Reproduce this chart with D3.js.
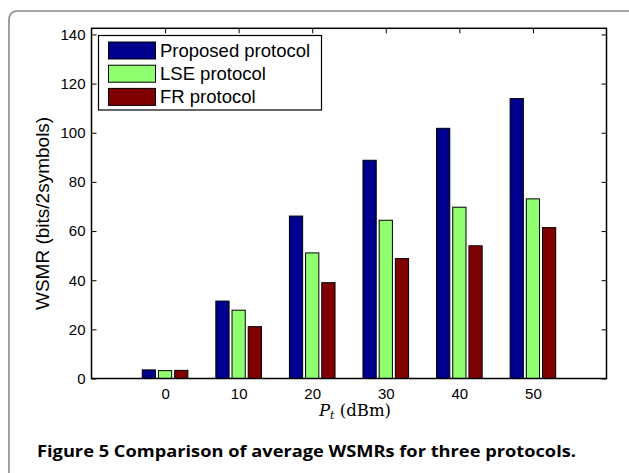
<!DOCTYPE html>
<html>
<head>
<meta charset="utf-8">
<script src="https://cdn.jsdelivr.net/npm/d3@7"></script>
<style>
  html, body { margin: 0; padding: 0; background: #fff; }
  svg { display: block; }
</style>
</head>
<body>
<svg id="chart" width="629" height="473"></svg>
<script>
// Transmit power levels (dBm) on the x axis
const powers = [0, 10, 20, 30, 40, 50];
// Series names as shown in the legend
const seriesNames = ["Proposed protocol", "LSE protocol", "FR protocol"];
// Average WSMR (bits/2symbols) per protocol
const proposed = [3.5, 31.5, 66.1, 88.8, 101.8, 113.9];
const lse      = [3.2, 27.8, 51.1, 64.4, 69.7, 73.1];
const fr       = [3.3, 21.1, 39.0, 48.8, 54.0, 61.4];
const yTicks = [0, 20, 40, 60, 80, 100, 120, 140];
const colors = ["#00008f", "#8fff70", "#800000"];

const series = [proposed, lse, fr];
const svg = d3.select("#chart");

// Plot area
const plotL = 91.5, plotR = 606.5, plotT = 28.3, plotB = 378.5;
const x = d3.scaleLinear().domain([-10, 60]).range([plotL, plotR]);
const y = d3.scaleLinear().domain([0, 142.5]).range([plotB, plotT]);

// Outer figure panel with rounded corner
const r = 9;
svg.append("path")
  .attr("d", `M9,480 L9,${11 + r} Q9,11 ${9 + r},11 L640,11`)
  .attr("fill", "none").attr("stroke", "#8a8a8a").attr("stroke-width", 1.6);

// Axes: ticks inside on all four sides (box on)
const font = "'Liberation Sans', Arial, Helvetica, sans-serif";
const axB = svg.append("g").attr("transform", `translate(0,${plotB})`)
  .call(d3.axisBottom(x).tickValues(powers).tickSize(0).tickPadding(10).tickFormat(d3.format("d")));
const axT = svg.append("g").attr("transform", `translate(0,${plotT})`)
  .call(d3.axisBottom(x).tickValues(powers).tickSize(5).tickFormat(""));
const axL = svg.append("g").attr("transform", `translate(${plotL},0)`)
  .call(d3.axisLeft(y).tickValues(yTicks).tickSize(-5).tickPadding(6).tickFormat(d3.format("d")));
const axR = svg.append("g").attr("transform", `translate(${plotR},0)`)
  .call(d3.axisLeft(y).tickValues(yTicks).tickSize(5).tickFormat(""));
[axB, axT, axL, axR].forEach(a => {
  a.select(".domain").remove();
  a.selectAll(".tick line").attr("stroke", "#000").attr("stroke-width", 1);
  a.selectAll("text").attr("font-family", font).attr("font-size", 15).attr("fill", "#000");
});
axB.selectAll("text").attr("dy", "0.71em");
axL.selectAll("text").attr("x", -6);

// Grouped bars: width 1.8 units, offset 2.2 units between series
const barW = 1.8, step = 2.2;
const groups = svg.append("g");
series.forEach((vals, si) => {
  groups.selectAll(null)
    .data(vals.map((v, i) => ({ p: powers[i], v })))
    .enter().append("rect")
    .attr("x", d => x(d.p + (si - 1) * step - barW / 2))
    .attr("width", d => x(barW) - x(0))
    .attr("y", d => y(d.v))
    .attr("height", d => y(0) - y(d.v))
    .attr("fill", colors[si])
    .attr("stroke", "#000").attr("stroke-width", 1);
});

// Axes frame
svg.append("rect")
  .attr("x", plotL).attr("y", plotT)
  .attr("width", plotR - plotL).attr("height", plotB - plotT)
  .attr("fill", "none").attr("stroke", "#000").attr("stroke-width", 1.5);

// Y axis title
svg.append("text")
  .attr("transform", `translate(49,${(plotT + plotB) / 2 + 10}) rotate(-90)`)
  .attr("text-anchor", "middle")
  .attr("font-family", font).attr("font-size", 19)
  .text("WSMR (bits/2symbols)");

// X axis title: P_t (dBm)
const xt = svg.append("text")
  .attr("x", 355).attr("y", 416)
  .attr("text-anchor", "middle")
  .attr("font-family", "'DejaVu Serif', 'Liberation Serif', serif").attr("font-size", 16.5);
xt.append("tspan").attr("font-style", "italic").text("P");
xt.append("tspan").attr("font-style", "italic").attr("font-size", 11).attr("dy", 3).text("t");
xt.append("tspan").attr("dy", -3).text(" (dBm)");

// Legend
const lg = svg.append("g");
lg.append("rect").attr("x", 98.5).attr("y", 35.5).attr("width", 223).attr("height", 74.5)
  .attr("fill", "#fff").attr("stroke", "#000").attr("stroke-width", 1.2);
seriesNames.forEach((name, i) => {
  const ry = 42 + i * 23.2;
  lg.append("rect").attr("x", 108.5).attr("y", ry).attr("width", 47).attr("height", 17)
    .attr("fill", colors[i]).attr("stroke", "#000").attr("stroke-width", 1);
  lg.append("text").attr("x", 160).attr("y", ry + 15)
    .attr("font-family", font).attr("font-size", 18.5).text(name);
});

// Caption
svg.append("text")
  .attr("x", 37).attr("y", 457)
  .attr("font-family", "'Open Sans', 'Noto Sans', sans-serif").attr("font-weight", "bold")
  .attr("font-size", 16.5).attr("textLength", 539).attr("lengthAdjust", "spacingAndGlyphs")
  .text("Figure 5 Comparison of average WSMRs for three protocols.");
</script>
</body>
</html>
